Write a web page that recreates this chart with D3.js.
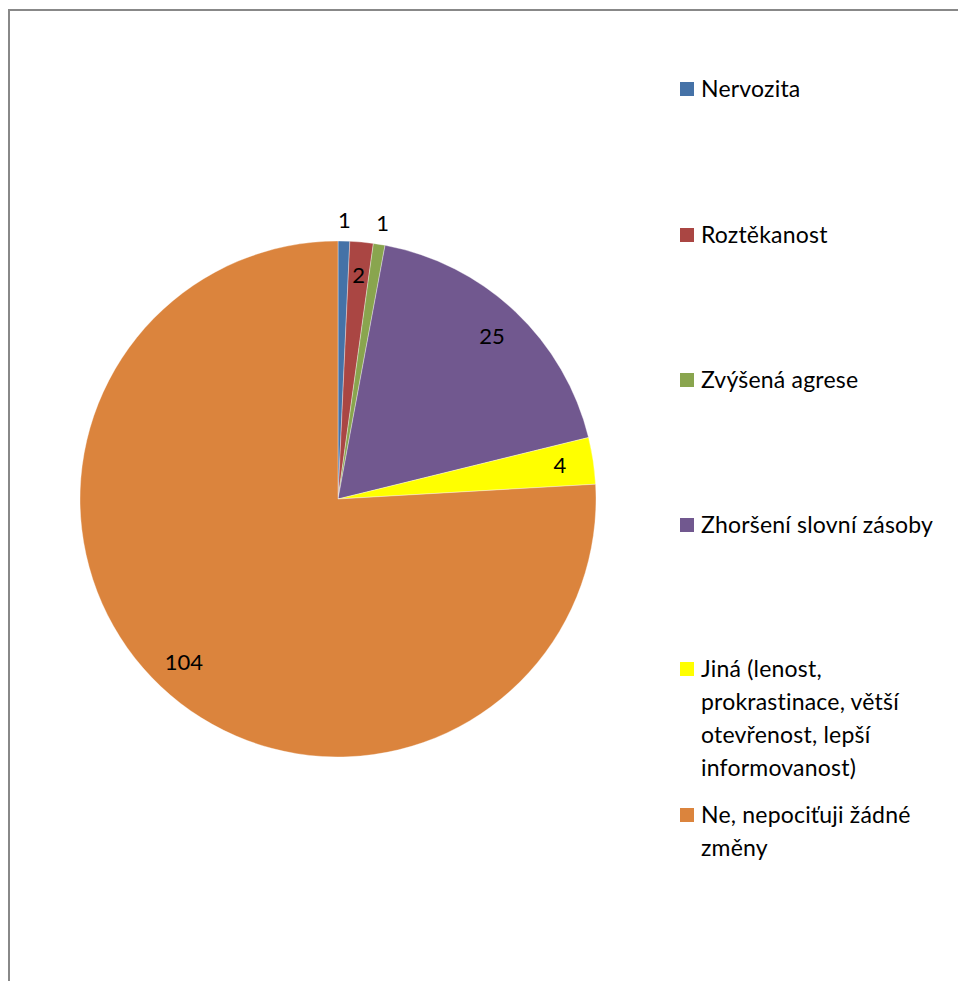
<!DOCTYPE html>
<html lang="cs">
<head>
<meta charset="utf-8">
<title>Pie</title>
<script src="https://cdn.jsdelivr.net/npm/d3@7"></script>
<style>
  body { margin: 0; background: #fff; }
  text { font-family: Lato, "Open Sans", sans-serif; }
</style>
</head>
<body>
<script>
// data
var categories = [
    ["Nervozita"],
    ["Roztěkanost"],
    ["Zvýšená agrese"],
    ["Zhoršení slovní zásoby"],
    ["Jiná (lenost,", "prokrastinace, větší", "otevřenost, lepší", "informovanost)"],
    ["Ne, nepociťuji žádné", "změny"]
];
var values = [1, 2, 1, 25, 4, 104];
var colors = ["#4572A7", "#AA4643", "#89A54E", "#71588F", "#FFFF00", "#DB843D"];

var w = 958, h = 981;
var cx = 338, cy = 499, radius = 258;

var svg = d3.select("body").append("svg")
    .attr("width", w)
    .attr("height", h);

// outer frame (runs off the right and bottom)
svg.append("rect")
    .attr("x", 9).attr("y", 10)
    .attr("width", 1000).attr("height", 1000)
    .attr("fill", "none")
    .attr("stroke", "#888")
    .attr("stroke-width", 2);

var pie = d3.pie().sort(null).value(function(d) { return d; });
var arcs = pie(values);

var arc = d3.arc().innerRadius(0).outerRadius(radius);
var inLabel = d3.arc().innerRadius(radius * 0.87).outerRadius(radius * 0.87);
var outLabel = d3.arc().innerRadius(radius + 21).outerRadius(radius + 21);

var g = svg.append("g").attr("transform", "translate(" + cx + "," + cy + ")");

g.selectAll("path")
    .data(arcs)
    .enter()
    .append("path")
    .attr("d", arc)
    .attr("fill", function(d, i) { return colors[i]; })
    .attr("stroke", "#fff")
    .attr("stroke-opacity", 0.5)
    .attr("stroke-width", 0.7);

g.selectAll("text.val")
    .data(arcs)
    .enter()
    .append("text")
    .attr("class", "val")
    .attr("transform", function(d) {
        var small = (d.endAngle - d.startAngle) < 0.06;
        var c = (small ? outLabel : inLabel).centroid(d);
        return "translate(" + c[0] + "," + c[1] + ")";
    })
    .attr("text-anchor", "middle")
    .attr("dy", "0.35em")
    .attr("font-size", "22px")
    .attr("fill", "#000")
    .text(function(d) { return d.data; });

// legend
var legendY = [89, 235, 380, 525, 669, 815];
var lineH = 33;

var leg = svg.selectAll("g.leg")
    .data(categories)
    .enter()
    .append("g")
    .attr("class", "leg")
    .attr("transform", function(d, i) { return "translate(680," + legendY[i] + ")"; });

leg.append("rect")
    .attr("x", 0).attr("y", -7)
    .attr("width", 14).attr("height", 14)
    .attr("fill", function(d, i) { return colors[i]; });

leg.append("text")
    .attr("x", 21)
    .attr("font-size", "23px")
    .attr("letter-spacing", "0.2px")
    .attr("fill", "#000")
    .selectAll("tspan")
    .data(function(d) { return d; })
    .enter()
    .append("tspan")
    .attr("x", 21)
    .attr("y", function(d, j) { return j * lineH; })
    .attr("dy", "0.35em")
    .text(function(d) { return d; });
</script>
</body>
</html>
